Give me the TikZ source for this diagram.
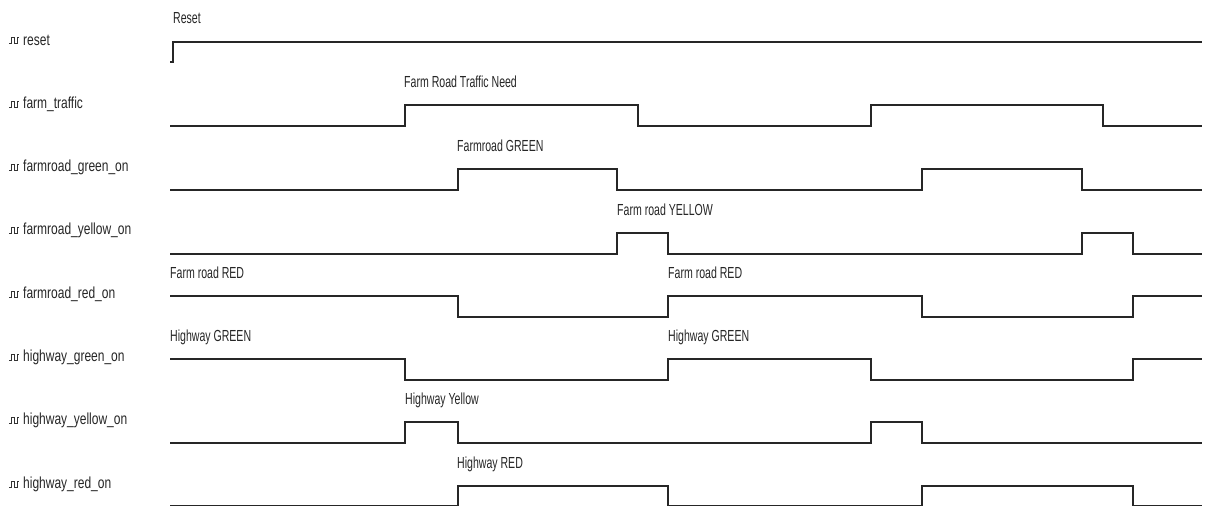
\documentclass[tikz,border=0pt]{standalone}
\usepackage{fontspec}
\setmainfont{Liberation Sans}
\newcommand{\cnd}[1]{\scalebox{0.66}[1]{#1}}
\newcommand{\cns}[1]{\scalebox{0.75}[1]{#1}}
\tikzset{
  wave/.style={line width=1.3pt, color=black!85, line join=miter},
  sig/.style={anchor=west, inner sep=0pt, font=\fontsize{16}{16}\selectfont, text=black!85},
  ann/.style={anchor=base west, inner sep=0pt, font=\fontsize{16}{16}\selectfont, text=black!85},
  icon/.style={line width=0.7pt, color=black!80}
}
\begin{document}
\begin{tikzpicture}[x=1pt,y=-1pt]
\useasboundingbox (0,0) rectangle (1205,507);
% signal names (y = level centers)
\foreach \n/\t/\y in {s0/reset/40, s1/farm\_traffic/104, s2/farmroad\_green\_on/167, s3/farmroad\_yellow\_on/230, s4/farmroad\_red\_on/294, s5/highway\_green\_on/357, s6/highway\_yellow\_on/420, s7/highway\_red\_on/484}{
  \node[sig] (\n) at (23,\y) {\cns{\t}};
  \draw[icon] (9,\y+3) -| (11.5,\y-3) -| (14.5,\y+3) -| (17.5,\y-3) -- (19,\y-3);
}
% waveforms
% reset
\draw[wave] (170,62) -| (173,42) -- (1202,42);
% farm_traffic
\draw[wave] (170,126) -| (405,105) -| (638,126) -| (871,105) -| (1103,126) -- (1202,126);
% farmroad_green_on
\draw[wave] (170,190) -| (458,169) -| (617,190) -| (922,169) -| (1082,190) -- (1202,190);
% farmroad_yellow_on
\draw[wave] (170,254) -| (617,233) -| (668,254) -| (1082,233) -| (1133,254) -- (1202,254);
% farmroad_red_on
\draw[wave] (170,296) -| (458,317) -| (668,296) -| (922,317) -| (1133,296) -- (1202,296);
% highway_green_on
\draw[wave] (170,359) -| (405,380) -| (668,359) -| (871,380) -| (1133,359) -- (1202,359);
% highway_yellow_on
\draw[wave] (170,443) -| (405,422) -| (458,443) -| (871,422) -| (922,443) -- (1202,443);
% highway_red_on
\draw[wave] (170,505.5) -| (458,486) -| (668,505.5) -| (922,486) -| (1133,505.5) -- (1202,505.5);
% annotations
\node[ann] (a0) at (173,23) {\cnd{Reset}};
\node[ann] (a1) at (404,87) {\cnd{Farm Road Traffic Need}};
\node[ann] (a2) at (457,151) {\cnd{Farmroad GREEN}};
\node[ann] (a3) at (617,215) {\cnd{Farm road YELLOW}};
\node[ann] (a4) at (170,278) {\cnd{Farm road RED}};
\node[ann] (a5) at (668,278) {\cnd{Farm road RED}};
\node[ann] (a6) at (170,341) {\cnd{Highway GREEN}};
\node[ann] (a7) at (668,341) {\cnd{Highway GREEN}};
\node[ann] (a8) at (405,404) {\cnd{Highway Yellow}};
\node[ann] (a9) at (457,468) {\cnd{Highway RED}};
\end{tikzpicture}
\end{document}
